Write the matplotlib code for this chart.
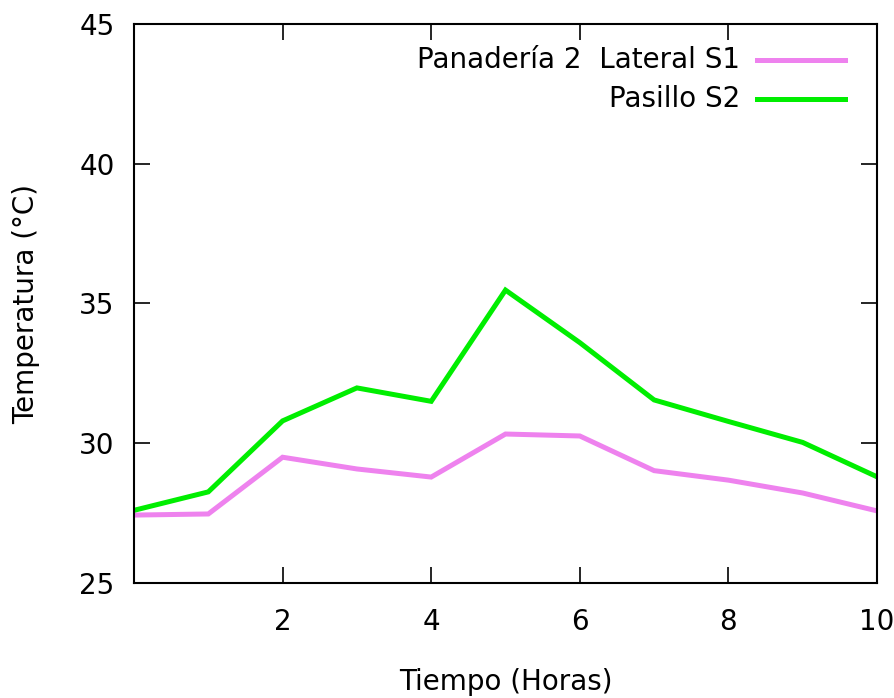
import matplotlib.pyplot as plt
from matplotlib.lines import Line2D

# datos
horas = [0, 1, 2, 3, 4, 5, 6, 7, 8, 9, 10]
lateral_s1 = [27.43, 27.47, 29.5, 29.08, 28.79, 30.33, 30.26, 29.02, 28.68, 28.22, 27.58]
pasillo_s2 = [27.6, 28.26, 30.8, 31.98, 31.5, 35.48, 33.6, 31.55, 30.78, 30.03, 28.8]

nombres = ["Panadería 2  Lateral S1", "Pasillo S2"]
colores = ["#ee82ee", "#00ee00"]
xticks = [2, 4, 6, 8, 10]
yticks = [25, 30, 35, 40, 45]

W, H = 895, 698
fs = 20
fig = plt.figure(figsize=(W / 100, H / 100), dpi=100)
ax = fig.add_axes([134 / W, 1 - 583 / H, (877 - 134) / W, (583 - 24) / H])

for serie, col in zip([lateral_s1, pasillo_s2], colores):
    ax.plot(horas, serie, color=col, lw=3.6, solid_joinstyle="miter")

ax.set_xlim(0, 10)
ax.set_ylim(25, 45)
ax.set_xticks(xticks)
ax.set_yticks(yticks)
ax.tick_params(direction="in", length=11.5, width=1.2, labelsize=fs,
               top=True, right=True)
ax.tick_params(axis="x", pad=18)
ax.tick_params(axis="y", pad=14)
for s in ax.spines.values():
    s.set_linewidth(1.5)

ax.set_xlabel("Tiempo (Horas)", fontsize=fs, labelpad=23)
ax.set_ylabel("Temperatura (°C)", fontsize=fs, labelpad=28)

# leyenda a mano, texto alineado a la derecha como gnuplot
filas_y = [60, 99]
for nom, col, yy in zip(nombres, colores, filas_y):
    fig.text(740 / W, 1 - yy / H, nom, ha="right", va="center", fontsize=fs)
    fig.add_artist(Line2D([757 / W, 845 / W], [1 - yy / H, 1 - yy / H],
                          color=col, lw=3.6, transform=fig.transFigure))

fig.savefig("out.png", dpi=100)
